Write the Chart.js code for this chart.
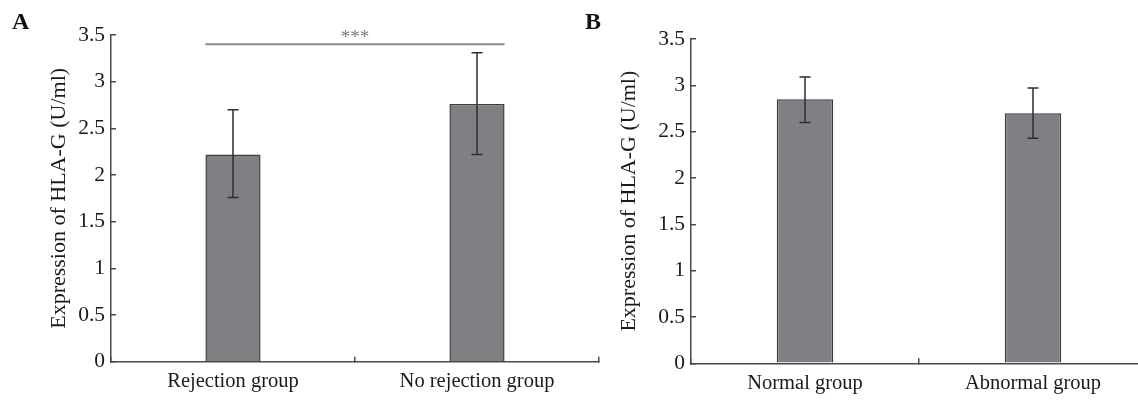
<!DOCTYPE html>
<html>
<head>
<meta charset="utf-8">
<script src="https://cdn.jsdelivr.net/npm/chart.js@4"></script>
<style>
  html, body { margin: 0; padding: 0; background: #fff; }
  #wrap { position: relative; width: 1138px; height: 400px; overflow: hidden; }
  .panel { position: absolute; top: 0; height: 400px; }
  #boxA { left: 0; width: 610px; }
  #boxB { left: 570px; width: 590px; }
  .tag { position: absolute; top: 9px; font: bold 24px/24px "Liberation Serif", serif; color: #111; }
</style>
</head>
<body>
<div id="wrap">
  <div class="panel" id="boxA"><canvas id="chartA"></canvas></div>
  <div class="panel" id="boxB"><canvas id="chartB"></canvas></div>
  <div class="tag" style="left:12px">A</div>
  <div class="tag" style="left:585px">B</div>
</div>
<script>
// panel A
var groupsA = ['Rejection group', 'No rejection group'];
var meanA = [2.22, 2.76];
var errLowA = [1.76, 2.22];
var errHighA = [2.70, 3.31];
var sigValueA = 3.40;
var sigTextA = '***';

// panel B
var groupsB = ['Normal group', 'Abnormal group'];
var meanB = [2.85, 2.70];
var errLowB = [2.60, 2.43];
var errHighB = [3.09, 2.97];

var yMin = 0;
var yMax = 3.5;
var yStep = 0.5;
var yTitle = 'Expression of HLA-G (U/ml)';

var serif = '"Liberation Serif", "Times New Roman", serif';
var axisColor = '#4a4a4a';

// error bars drawn from the bar elements and the y scale
var errorBars = {
  id: 'errorBars',
  afterDatasetsDraw: function (chart) {
    var opts = chart.options.plugins.errorBars;
    if (!opts) return;
    var ctx = chart.ctx;
    var y = chart.scales.y;
    var bars = chart.getDatasetMeta(0).data;
    ctx.save();
    ctx.strokeStyle = '#2e2e2e';
    ctx.lineWidth = 1.5;
    for (var i = 0; i < bars.length; i++) {
      var x = bars[i].x;
      var yLo = y.getPixelForValue(opts.low[i]);
      var yHi = y.getPixelForValue(opts.high[i]);
      ctx.beginPath();
      ctx.moveTo(x, yLo); ctx.lineTo(x, yHi);
      ctx.moveTo(x - 5.5, yLo); ctx.lineTo(x + 5.5, yLo);
      ctx.moveTo(x - 5.5, yHi); ctx.lineTo(x + 5.5, yHi);
      ctx.stroke();
    }
    ctx.restore();
  }
};

// significance bracket over the two bars
var sigLine = {
  id: 'sigLine',
  afterDatasetsDraw: function (chart) {
    var opts = chart.options.plugins.sigLine;
    if (!opts || opts.value == null) return;
    var ctx = chart.ctx;
    var bars = chart.getDatasetMeta(0).data;
    var first = bars[0], last = bars[bars.length - 1];
    var x1 = first.x - first.width / 2;
    var x2 = last.x + last.width / 2;
    var yy = chart.scales.y.getPixelForValue(opts.value);
    ctx.save();
    ctx.strokeStyle = '#8a8a8a';
    ctx.lineWidth = 2;
    ctx.beginPath();
    ctx.moveTo(x1, yy); ctx.lineTo(x2, yy);
    ctx.stroke();
    ctx.fillStyle = '#7a7a7a';
    ctx.font = '19px ' + serif;
    ctx.textAlign = 'center';
    ctx.textBaseline = 'alphabetic';
    ctx.fillText(opts.text, (x1 + x2) / 2, yy - 1);
    ctx.restore();
  }
};

function makeChart(id, labels, means, lows, highs, opt) {
  var ctx = document.getElementById(id);
  return new Chart(ctx, {
    type: 'bar',
    data: {
      labels: labels,
      datasets: [{
        data: means,
        backgroundColor: '#808084',
        borderColor: '#3d3d3d',
        borderWidth: 1.5,
        categoryPercentage: 1,
        barPercentage: opt.barPct
      }]
    },
    options: {
      responsive: true,
      maintainAspectRatio: false,
      animation: false,
      layout: { padding: { top: opt.top, right: opt.right, left: 0, bottom: 0 } },
      plugins: {
        legend: { display: false },
        tooltip: { enabled: false },
        errorBars: { low: lows, high: highs },
        sigLine: { value: opt.sigValue, text: opt.sigText }
      },
      scales: {
        x: {
          grid: { drawOnChartArea: false, drawTicks: true, tickLength: -5, offset: true, color: axisColor, lineWidth: 1.5 },
          border: { color: axisColor, width: 1.5 },
          ticks: { padding: 13, color: '#1a1a1a', font: { family: serif, size: 20.5 } },
          afterFit: function (s) { s.height = opt.xHeight; }
        },
        y: {
          min: yMin,
          max: yMax,
          grid: { drawOnChartArea: false, drawTicks: true, tickLength: -5, color: axisColor, lineWidth: 1.5 },
          border: { color: axisColor, width: 1.5 },
          ticks: {
            stepSize: yStep,
            padding: 11,
            color: '#1a1a1a',
            font: { family: serif, size: 21.5 },
            callback: function (v) { return String(Math.round(v * 10) / 10); }
          },
          title: {
            display: true,
            text: yTitle,
            color: '#1a1a1a',
            font: { family: serif, size: 22, lineHeight: 1.2 },
            padding: { top: 45.8, bottom: 0 }
          },
          afterFit: function (s) { s.width = opt.yWidth; }
        }
      }
    },
    plugins: [errorBars, sigLine]
  });
}

makeChart('chartA', groupsA, meanA, errLowA, errHighA,
  { barPct: 0.226, top: 35, right: 11, xHeight: 38.3, yWidth: 111, sigValue: sigValueA, sigText: sigTextA });
makeChart('chartB', groupsB, meanB, errLowB, errHighB,
  { barPct: 0.248, top: 39, right: 13, xHeight: 36.7, yWidth: 121, sigValue: null, sigText: '' });
</script>
</body>
</html>
